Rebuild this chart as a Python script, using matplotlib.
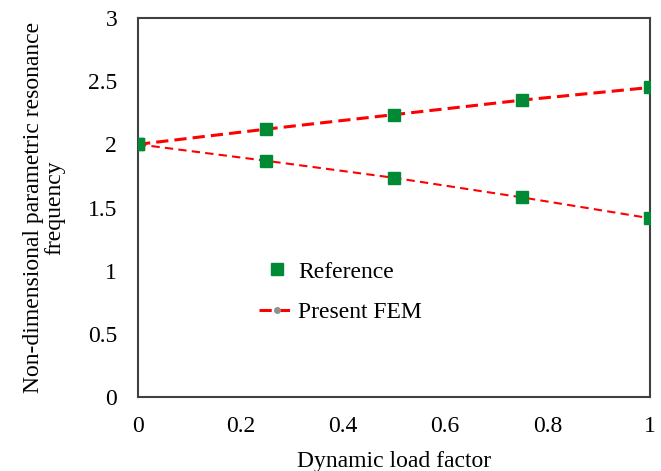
import matplotlib.pyplot as plt

# Data
load_factor = [0, 0.25, 0.5, 0.75, 1.0]
ref_upper = [2.0, 2.12, 2.235, 2.35, 2.45]
ref_lower = [2.0, 1.87, 1.735, 1.58, 1.415]
fem_upper = [2.0, 2.12, 2.235, 2.35, 2.45]
fem_lower = [2.0, 1.87, 1.735, 1.58, 1.415]

plt.rcParams['font.family'] = ['Liberation Serif', 'DejaVu Serif']

fig = plt.figure(figsize=(6.61, 4.71), dpi=100)
ax = fig.add_axes([138 / 661, (471 - 397) / 471, 512 / 661, 379 / 471])

# Present FEM: red dashed lines with small grey circles
ax.plot(load_factor, fem_upper, linestyle='--', color='red', linewidth=2.2,
        marker='o', markersize=4, markerfacecolor='#909090', markeredgecolor='#909090',
        dashes=(4, 2), label='Present FEM', zorder=2)
ax.plot(load_factor, fem_lower, linestyle='--', color='red', linewidth=1.5,
        marker='o', markersize=4, markerfacecolor='#909090', markeredgecolor='#909090',
        dashes=(4, 2.5), zorder=2)

# Reference: green squares
ax.plot(load_factor, ref_upper, linestyle='none', marker='s', markersize=8,
        color='#008a35', label='Reference', zorder=3)
ax.plot(load_factor, ref_lower, linestyle='none', marker='s', markersize=8,
        color='#008a35', zorder=3)

ax.set_xlim(0, 1)
ax.set_ylim(0, 3)
ax.set_xticks([0, 0.2, 0.4, 0.6, 0.8, 1])
ax.set_xticklabels(['0', '0.2', '0.4', '0.6', '0.8', '1'])
ax.set_yticks([0, 0.5, 1, 1.5, 2, 2.5, 3])
ax.set_yticklabels(['0', '0.5', '1', '1.5', '2', '2.5', '3'])
ax.tick_params(length=0, labelsize=17)
ax.tick_params(axis='x', pad=14)
ax.tick_params(axis='y', pad=15)

for s in ax.spines.values():
    s.set_color('#404040')
    s.set_linewidth(1.5)

ax.set_xlabel('Dynamic load factor', fontsize=17, labelpad=10)
ax.set_ylabel('Non-dimensional parametric resonance\nfrequency', fontsize=17,
              labelpad=16, linespacing=1.05)

handles, labels = ax.get_legend_handles_labels()
ax.legend([handles[1], handles[0]], [labels[1], labels[0]], loc='center left',
          bbox_to_anchor=(0.195, 0.277), frameon=False, fontsize=17,
          labelspacing=0.8, handlelength=1.5, handletextpad=0.15, markerscale=1.0)

fig.savefig('out.png', dpi=100)
